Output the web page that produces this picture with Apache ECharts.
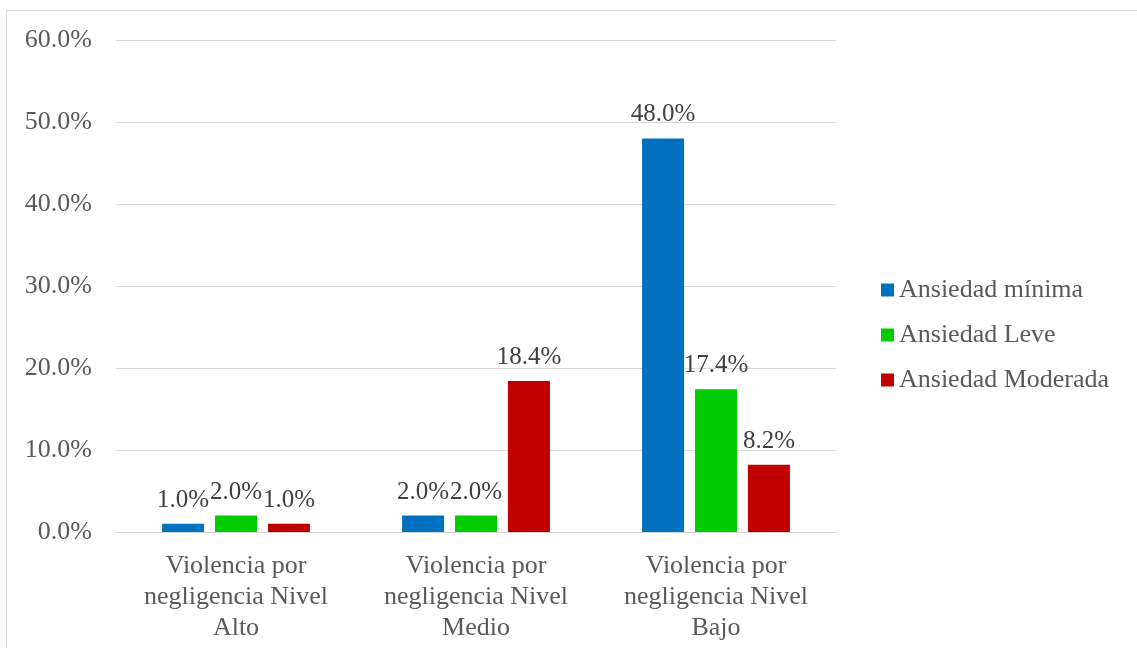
<!DOCTYPE html>
<html><head><meta charset="utf-8">
<script src="https://cdn.jsdelivr.net/npm/echarts@6/dist/echarts.min.js"></script>
<style>html,body{margin:0;padding:0;background:#fff}#c{width:1137px;height:648px}</style>
</head><body><div id="c"></div>
<script>
const categories = ["Violencia por\nnegligencia Nivel\nAlto", "Violencia por\nnegligencia Nivel\nMedio", "Violencia por\nnegligencia Nivel\nBajo"];
const seriesNames = ["Ansiedad mínima", "Ansiedad Leve", "Ansiedad Moderada"];
const minima = [1.0, 2.0, 48.0];
const leve = [2.0, 2.0, 17.4];
const moderada = [1.0, 18.4, 8.2];
const colors = ["#0070C0", "#00CC00", "#C00000"];
const yTicks = {min: 0, max: 60, interval: 10};

const font = "'Liberation Serif', 'Times New Roman', serif";
const chart = echarts.init(document.getElementById('c'));
const mk = (name, data, color) => ({
  name, type: 'bar', data, barWidth: 42, barGap: '26%',
  itemStyle: {color},
  label: {show: true, position: 'top', distance: 11, formatter: p => p.value.toFixed(1) + '%',
    fontFamily: font, fontSize: 25, color: '#404040'}
});
chart.setOption({
  animation: false,
  textStyle: {fontFamily: font},
  graphic: [{type: 'rect', shape: {x: 6.5, y: 10.5, width: 1200, height: 700},
    style: {fill: 'none', stroke: '#d9d9d9', lineWidth: 1}, silent: true}],
  grid: {left: 116, right: 1137 - 836, top: 40, bottom: 648 - 532},
  legend: {orient: 'vertical', left: 876, top: 272, itemWidth: 13, itemHeight: 13, itemGap: 19,
    icon: 'rect', textStyle: {fontFamily: font, fontSize: 26, color: '#595959'},
    data: seriesNames},
  xAxis: {type: 'category', data: categories,
    axisLine: {lineStyle: {color: '#d9d9d9', width: 1}}, axisTick: {show: false},
    axisLabel: {fontFamily: font, fontSize: 26, color: '#595959', lineHeight: 31, margin: 19, interval: 0}},
  yAxis: {type: 'value', min: yTicks.min, max: yTicks.max, interval: yTicks.interval,
    axisLine: {show: false}, axisTick: {show: false},
    splitLine: {lineStyle: {color: '#d9d9d9', width: 1}},
    axisLabel: {formatter: v => v.toFixed(1) + '%', fontFamily: font, fontSize: 26, color: '#595959', margin: 24,
      padding: [5, 0, 0, 0]}},
  series: [mk(seriesNames[0], minima, colors[0]), mk(seriesNames[1], leve, colors[1]), mk(seriesNames[2], moderada, colors[2])]
});
</script></body></html>
